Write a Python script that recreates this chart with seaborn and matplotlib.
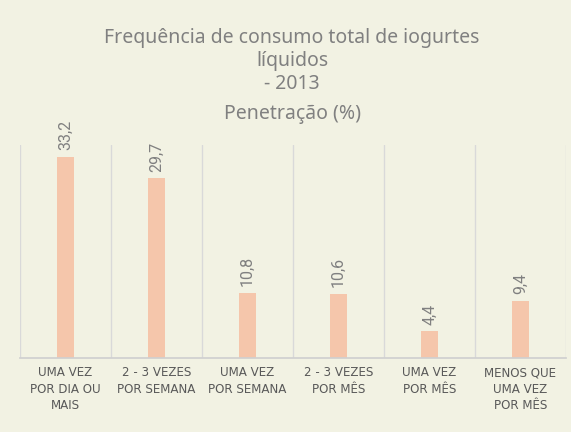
import matplotlib
matplotlib.use("Agg")
import matplotlib.pyplot as plt
import seaborn as sns
import pandas as pd

categories = ["UMA VEZ\nPOR DIA OU\nMAIS", "2 - 3 VEZES\nPOR SEMANA", "UMA VEZ\nPOR SEMANA",
              "2 - 3 VEZES\nPOR MÊS", "UMA VEZ\nPOR MÊS", "MENOS QUE\nUMA VEZ\nPOR MÊS"]
values = [33.2, 29.7, 10.8, 10.6, 4.4, 9.4]
value_labels = ["33,2", "29,7", "10,8", "10,6", "4,4", "9,4"]
title_lines = ["Frequência de consumo total de iogurtes", "líquidos", "- 2013", "Penetração (%)"]

bg = "#F2F2E3"
sns.set_theme(style="white")
plt.rcParams['font.family'] = ['Noto Sans', 'DejaVu Sans']

df = pd.DataFrame({"cat": categories, "val": values})
fig = plt.figure(figsize=(5.71, 4.32), dpi=100, facecolor=bg)
ax = fig.add_axes([20/571, 1-358/432, (566-20)/571, (358-145)/432])
ax.set_facecolor(bg)
sns.barplot(data=df, x="cat", y="val", color="#F5C6AB", width=0.19, saturation=1,
            linewidth=0, edgecolor="none", ax=ax)
ax.set_ylim(0, 35.2)
ax.set_xlim(-0.5, 5.5)
ax.set_yticks([])
ax.set_xlabel("")
ax.set_ylabel("")
for s in ["top", "right", "left"]:
    ax.spines[s].set_visible(False)
ax.spines["bottom"].set_color("#D0D0D0")
for i in range(7):
    ax.axvline(i - 0.5, color="#D9D9D9", lw=1, zorder=0)
ax.tick_params(axis="x", length=0, pad=6, colors="#595959")
ax.set_xticks(range(len(categories)))
ax.set_xticklabels(categories, fontfamily="DejaVu Sans", fontsize=8.6, linespacing=1.32,
                   color="#595959")
for i, (v, t) in enumerate(zip(values, value_labels)):
    ax.text(i, v + 1.1, t, rotation=90, ha="center", va="bottom", fontsize=11.5, color="#808080",
            family="Roboto", clip_on=False)

for y, t in zip([38, 61, 84, 114], title_lines):
    fig.text(292/571, 1-y/432, t, ha="center", va="center", fontsize=14, color="#808080")
fig.savefig("out.png", dpi=100, facecolor=bg)
